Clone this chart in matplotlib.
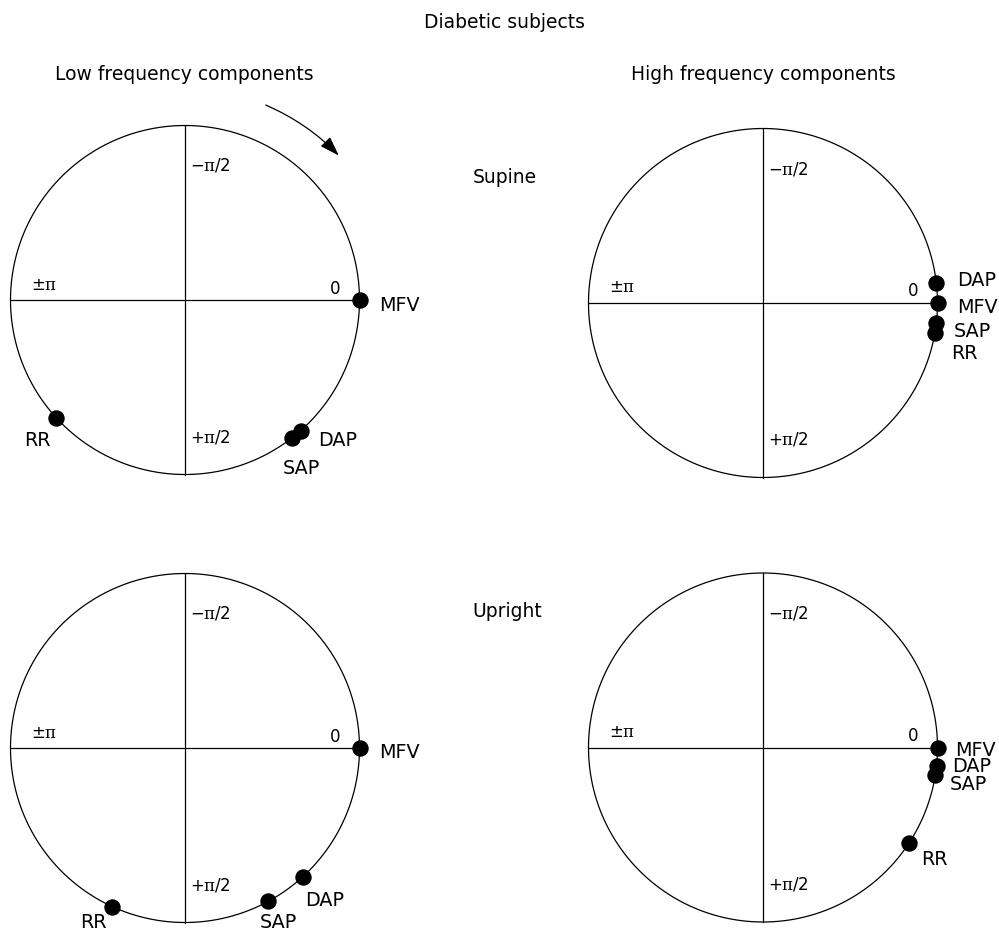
import numpy as np
import matplotlib
matplotlib.use("Agg")
import matplotlib.pyplot as plt

plt.rcParams["font.family"] = ["DejaVu Sans"]
plt.rcParams["mathtext.fontset"] = "custom"
plt.rcParams["mathtext.rm"] = "DejaVu Serif"
plt.rcParams["mathtext.it"] = "DejaVu Serif:italic"

# phase angles (radians), 0 at right, +pi/2 at bottom (clockwise)
variables = ["MFV", "DAP", "SAP", "RR"]
low_supine = [0.0, 0.846, 0.909, 2.40]
high_supine = [0.0, -0.113, 0.117, 0.175]
low_upright = [0.0, 0.830, 1.072, 2.002]
high_upright = [0.0, 0.104, 0.158, 0.578]

title = "Diabetic subjects"
col_titles = ["Low frequency components", "High frequency components"]
row_titles = ["Supine", "Upright"]

# layout (pixels): circle centre and label offsets from each dot
R = 174.5
panels = [
    (185, 300, low_supine,
     {"MFV": (19.5, 10.7), "DAP": (17.3, 15.3), "SAP": (-9.2, 36.3), "RR": (-32.3, 28.1)}),
    (763, 303, high_supine,
     {"MFV": (19.2, 10.3), "DAP": (20.3, 2.7), "SAP": (17.7, 13.9), "RR": (15.9, 25.7)}),
    (185, 748, low_upright,
     {"MFV": (19.5, 10.3), "DAP": (2.2, 29.2), "SAP": (-9.2, 27.0), "RR": (-32.2, 21.5)}),
    (763, 747.5, high_upright,
     {"MFV": (17.5, 8.0), "DAP": (15.1, 6.4), "SAP": (14.0, 15.5), "RR": (11.5, 22.2)}),
]

fig = plt.figure(figsize=(9.99, 9.33), dpi=100)
ax = fig.add_axes([0, 0, 1, 1])
ax.set_xlim(0, 999)
ax.set_ylim(933, 0)
ax.axis("off")

lw = 0.9
t = np.linspace(0, 2 * np.pi, 400)
for cx, cy, angles, offs in panels:
    ax.plot(cx + R * np.cos(t), cy + R * np.sin(t), color="black", lw=lw)
    ax.plot([cx - R, cx + R], [cy, cy], color="black", lw=lw)
    ax.plot([cx, cx], [cy - R, cy + R], color="black", lw=lw)

    ax.text(cx + 5, cy - 129, "\u2212$\\mathrm{\\pi}$/2", fontsize=12, ha="left", va="baseline")
    ax.text(cx - 154, cy - 10.5, "\u00b1$\\mathrm{\\pi}$", fontsize=12, ha="left", va="baseline")
    ax.text(cx + 150, cy - 6.5, "0", fontsize=12, ha="center", va="baseline")
    ax.text(cx + 5, cy + 142, "+$\\mathrm{\\pi}$/2", fontsize=12, ha="left", va="baseline")

    ang = np.array(angles)
    px = cx + R * np.cos(ang)
    py = cy + R * np.sin(ang)
    ax.plot(px, py, "o", color="black", markersize=10.8, clip_on=False)
    for name, x, y in zip(variables, px, py):
        dx, dy = offs[name]
        ax.text(x + dx, y + dy, name, fontsize=13.8, ha="left", va="baseline")

# titles
ax.text(504, 28.3, title, fontsize=13.5, ha="center", va="baseline")
ax.text(184, 80, col_titles[0], fontsize=13.5, ha="center", va="baseline")
ax.text(763, 80, col_titles[1], fontsize=13.5, ha="center", va="baseline")
ax.text(473, 183.3, row_titles[0], fontsize=13.5, ha="left", va="baseline")
ax.text(472, 617, row_titles[1], fontsize=13.5, ha="left", va="baseline")

# direction arrow
ra = 211
a0, a1 = np.deg2rad(-67.5), np.deg2rad(-43.2)
ax.annotate("", xy=(185 + ra * np.cos(a1), 300 + ra * np.sin(a1)),
            xytext=(185 + ra * np.cos(a0), 300 + ra * np.sin(a0)),
            arrowprops=dict(arrowstyle="-|>,head_length=1.2,head_width=0.4",
                            connectionstyle="arc3,rad=-0.1", color="black",
                            lw=0.9, mutation_scale=10, shrinkA=0, shrinkB=0))

fig.savefig("out.png", dpi=100)
